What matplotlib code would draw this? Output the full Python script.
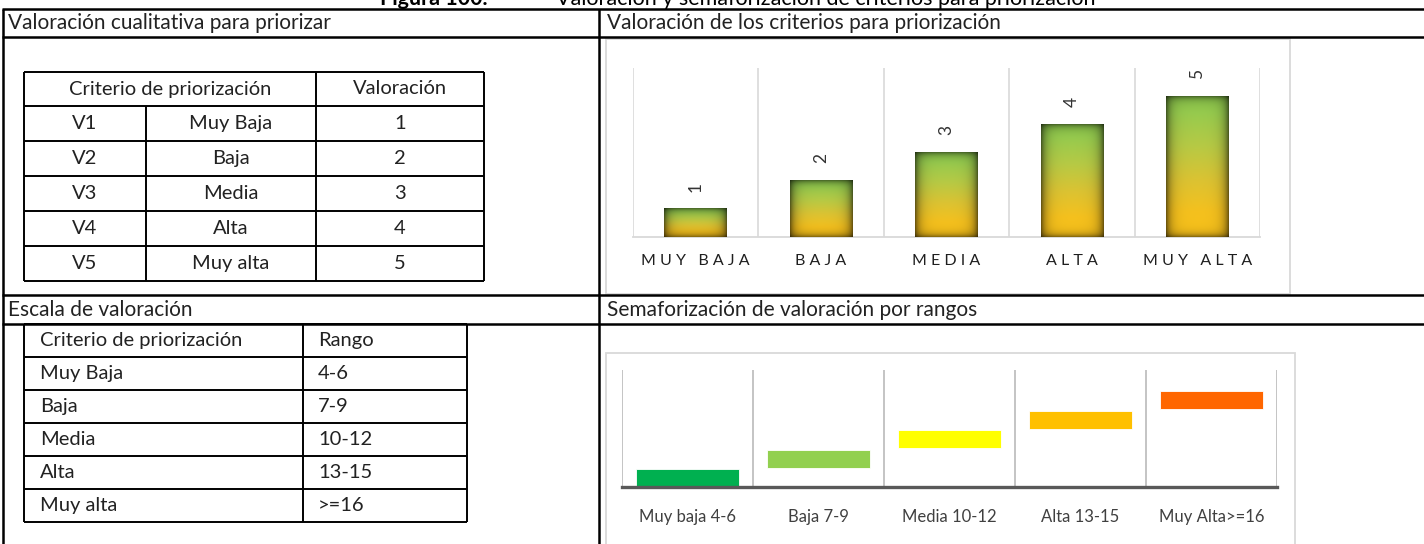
import numpy as np
import matplotlib
matplotlib.use("Agg")
import matplotlib.pyplot as plt
from matplotlib.patches import Rectangle
from matplotlib.colors import to_rgb

plt.rcParams['font.family'] = ['Lato', 'DejaVu Sans']

W, H, DPI = 1424, 544, 100

# ---------------- data ----------------
title_bold = "Figura 100."
title_dash = "–"
title_rest = "Valoración y semaforización de criterios para priorización"
header_tl = "Valoración cualitativa para priorizar"
header_tr = "Valoración de los criterios para priorización"
header_bl = "Escala de valoración"
header_br = "Semaforización de valoración por rangos"

t1_header = ["Criterio de priorización", "Valoración"]
t1_codes = ["V1", "V2", "V3", "V4", "V5"]
t1_levels = ["Muy Baja", "Baja", "Media", "Alta", "Muy alta"]
t1_values = [1, 2, 3, 4, 5]

t2_header = ["Criterio de priorización", "Rango"]
t2_levels = ["Muy Baja", "Baja", "Media", "Alta", "Muy alta"]
t2_ranges = ["4-6", "7-9", "10-12", "13-15", ">=16"]

bar_categories = ["MUY BAJA", "BAJA", "MEDIA", "ALTA", "MUY ALTA"]
bar_values = [1, 2, 3, 4, 5]

sem_categories = ["Muy baja 4-6", "Baja 7-9", "Media 10-12", "Alta 13-15", "Muy Alta>=16"]
sem_base = [0, 1, 2, 3, 4]
sem_band = [0.9, 0.9, 0.9, 0.9, 0.9]
sem_colors = ["#00b050", "#92d050", "#ffff00", "#ffc000", "#ff6600"]

# ---------------- figure ----------------
fig = plt.figure(figsize=(W / DPI, H / DPI), dpi=DPI)
fig.patch.set_facecolor('white')
bg = fig.add_axes([0, 0, 1, 1], zorder=0)
bg.set_xlim(0, W)
bg.set_ylim(H, 0)
bg.axis('off')

TXT = dict(fontsize=14.5, color='#222222', fontweight='normal')
HDR = dict(fontsize=15, color='#222222', fontweight='normal')


def hline(y, x0, x1, lw=1.8, c='black'):
    bg.plot([x0, x1], [y, y], color=c, lw=lw, solid_capstyle='butt')


def vline(x, y0, y1, lw=1.8, c='black'):
    bg.plot([x, x], [y0, y1], color=c, lw=lw, solid_capstyle='butt')


def px_axes(x0, y0, x1, y1):
    return fig.add_axes([x0 / W, 1 - y1 / H, (x1 - x0) / W, (y1 - y0) / H], zorder=2)


# title (clipped at top)
bg.text(380, 5, title_bold, fontsize=15.5, fontweight='bold', ha='left', va='baseline', color='black')
bg.text(518, 5, title_dash, fontsize=15.5, ha='center', va='baseline', color='black')
bg.text(556, 5, title_rest, fontsize=15.5, ha='left', va='baseline', color='black')

# outer grid
hline(8.5, 2, W)
hline(37, 2, W)
hline(295, 2, W)
hline(324, 2, W)
vline(3, 8.5, H)
vline(599, 8.5, H)

bg.text(8, 23, header_tl, ha='left', va='center', **HDR)
bg.text(607, 23, header_tr, ha='left', va='center', **HDR)
bg.text(8, 310, header_bl, ha='left', va='center', **HDR)
bg.text(607, 310, header_br, ha='left', va='center', **HDR)

# ---- table 1 ----
t1x = [24, 146, 316, 484]
t1y = [72, 106, 141, 176, 211, 246, 281]
for y in t1y:
    hline(y, t1x[0], t1x[-1], lw=1.4)
for i, x in enumerate(t1x):
    if i == 1:
        vline(x, t1y[1], t1y[-1], lw=1.4)
    else:
        vline(x, t1y[0], t1y[-1], lw=1.4)
hy = (t1y[0] + t1y[1]) / 2
bg.text((t1x[0] + t1x[2]) / 2, hy, t1_header[0], ha='center', va='center', **TXT)
bg.text((t1x[2] + t1x[3]) / 2, hy, t1_header[1], ha='center', va='center', **TXT)
for r, (c, l, v) in enumerate(zip(t1_codes, t1_levels, t1_values)):
    yc = (t1y[r + 1] + t1y[r + 2]) / 2
    bg.text((t1x[0] + t1x[1]) / 2, yc, c, ha='center', va='center', **TXT)
    bg.text((t1x[1] + t1x[2]) / 2, yc, l, ha='center', va='center', **TXT)
    bg.text((t1x[2] + t1x[3]) / 2, yc, str(v), ha='center', va='center', **TXT)

# ---- table 2 ----
t2x = [24, 303, 467]
t2y = [324, 357, 390, 423, 456, 489, 522]
for y in t2y:
    hline(y, t2x[0], t2x[-1], lw=1.4)
for x in t2x:
    vline(x, t2y[0], t2y[-1], lw=1.4)
rows2 = [t2_header] + [[a, b] for a, b in zip(t2_levels, t2_ranges)]
for r, (a, b) in enumerate(rows2):
    yc = (t2y[r] + t2y[r + 1]) / 2
    bg.text(t2x[0] + 16, yc, a, ha='left', va='center', **TXT)
    bg.text(t2x[1] + 15, yc, b, ha='left', va='center', **TXT)

# ---- chart boxes ----
bg.add_patch(Rectangle((606, 39), 684, 255, facecolor='white', edgecolor='#d9d9d9', lw=1.3))
bg.add_patch(Rectangle((606, 353), 689, 200, facecolor='white', edgecolor='#d9d9d9', lw=1.3))

# ---- chart 1: gradient bars ----
ax1 = px_axes(633, 68, 1260, 237)
ax1.patch.set_alpha(0)
n1 = len(bar_categories)
xs1 = np.arange(n1)
ax1.set_xlim(-0.5, n1 - 0.5)
ax1.set_ylim(0, 6)
ax1.vlines(np.arange(n1 + 1) - 0.5, 0, 6, color='#d9d9d9', lw=1.2, zorder=1)
bars = ax1.bar(xs1, bar_values, width=0.5, color='none', edgecolor='none', zorder=2)

stops_t = [0.0, 0.12, 0.35, 0.6, 0.82, 1.0]
stops_c = ['#88c24a', '#97cb4e', '#b6ca45', '#dcc332', '#f5c11e', '#f9c21a']


def grad_img(nw, nh):
    t = (np.arange(nh) + 0.5) / nh
    base = np.stack([np.interp(t, stops_t, [to_rgb(c)[k] for c in stops_c]) for k in range(3)], axis=-1)
    xx = np.arange(nw) + 0.5
    dx = np.minimum(xx, nw - xx)
    yy = np.arange(nh) + 0.5
    dy = np.minimum(yy, nh - yy)
    fx = 1 - 0.6 * np.exp(-dx / 5.0)
    fy = 1 - 0.5 * np.exp(-dy / 3.5)
    f = fy[:, None] * fx[None, :]
    return np.clip(base[:, None, :] * f[:, :, None], 0, 1)


for p in bars:
    x, w, h = p.get_x(), p.get_width(), p.get_height()
    (px0, py0), (px1, py1) = ax1.transData.transform([(x, 0), (x + w, h)])
    nw = max(int(round(px1 - px0)), 2)
    nh = max(int(round(py1 - py0)), 2)
    ax1.imshow(grad_img(nw, nh), extent=(x, x + w, 0, h), origin='upper',
               aspect='auto', zorder=3, interpolation='bilinear')
    ax1.annotate(str(int(h)), (x + w / 2, h), xytext=(0, 16), textcoords='offset points',
                 rotation=90, ha='center', va='center', fontsize=12.5, color='#333333')
ax1.set_xlim(-0.5, n1 - 0.5)
ax1.set_ylim(0, 6)
for s in ['top', 'left', 'right']:
    ax1.spines[s].set_visible(False)
ax1.spines['bottom'].set_color('#d9d9d9')
ax1.spines['bottom'].set_linewidth(1.3)
ax1.set_yticks([])
ax1.set_xticks(xs1)
ax1.set_xticklabels(['   '.join(' '.join(wd) for wd in c.split(' ')) for c in bar_categories],
                    fontsize=11.5, color='#1f1f1f')
ax1.tick_params(axis='x', length=0, pad=12)

# ---- chart 2: floating range bars ----
ax2 = px_axes(622, 370, 1277, 487)
ax2.patch.set_alpha(0)
n2 = len(sem_categories)
xs2 = np.arange(n2)
ax2.vlines(np.arange(n2 + 1) - 0.5, 0, 6, color='#bfbfbf', lw=1.3, zorder=1)
ax2.bar(xs2, sem_band, bottom=sem_base, width=0.79, color=sem_colors,
        edgecolor='white', lw=0.6, zorder=3)
ax2.set_xlim(-0.5, n2 - 0.5)
ax2.set_ylim(0, 6)
for s in ['top', 'left', 'right']:
    ax2.spines[s].set_visible(False)
ax2.spines['bottom'].set_color('#595959')
ax2.spines['bottom'].set_linewidth(2.4)
ax2.spines['bottom'].set_zorder(4)
ax2.set_yticks([])
ax2.set_xticks(xs2)
ax2.set_xticklabels(sem_categories, fontsize=12, color='#404040')
ax2.tick_params(axis='x', length=0, pad=16)

fig.savefig('out.png', dpi=DPI, facecolor='white')
